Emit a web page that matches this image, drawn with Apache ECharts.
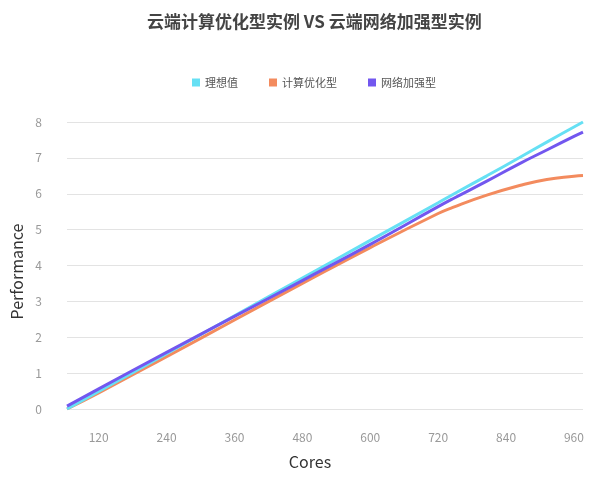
<!DOCTYPE html>
<html>
<head>
<meta charset="utf-8">
<script src="https://cdn.jsdelivr.net/npm/echarts@6/dist/echarts.min.js"></script>
<style>html,body{margin:0;padding:0;background:#fff;}#c{width:600px;height:477px;}</style>
</head>
<body>
<div id="c"></div>
<script>
const cores = [64, 120, 240, 360, 480, 600, 720, 746, 806, 864, 912, 960, 976];
const ideal = [0, 0.49, 1.54, 2.60, 3.65, 4.70, 5.75, 5.98, 6.50, 7.01, 7.44, 7.86, 8.0];
const computeOpt = [0, 0.45, 1.46, 2.48, 3.50, 4.50, 5.45, 5.62, 5.96, 6.23, 6.40, 6.49, 6.51];
const networkEnh = [0.08, 0.56, 1.58, 2.58, 3.58, 4.59, 5.64, 5.86, 6.35, 6.84, 7.22, 7.60, 7.72];
const xTicks = [120, 240, 360, 480, 600, 720, 840, 960];
const seriesNames = ['理想值', '计算优化型', '网络加强型'];
const colors = ['#66E0F4', '#F38B5E', '#7257EF'];

const font = '"Noto Sans CJK SC", "Noto Sans", sans-serif';
const pair = (ys) => cores.map((c, i) => [c, ys[i]]);

const chart = echarts.init(document.getElementById('c'), null, {renderer: 'canvas'});
chart.setOption({
  animation: false,
  color: colors,
  textStyle: {fontFamily: font},
  title: {
    text: '云端计算优化型实例 VS 云端网络加强型实例',
    left: 142,
    top: 8,
    textStyle: {fontSize: 17, fontWeight: 'bold', color: '#444', fontFamily: font}
  },
  legend: {
    top: 72,
    left: 187,
    icon: 'rect',
    itemWidth: 8,
    itemHeight: 8,
    itemGap: 31,
    textStyle: {fontSize: 11, color: '#555', fontFamily: font},
    data: seriesNames
  },
  grid: {left: 67, right: 17, top: 122, bottom: 68},
  xAxis: {
    type: 'value',
    min: 64,
    max: 976,
    name: 'Cores',
    nameLocation: 'middle',
    nameGap: 45,
    nameTextStyle: {fontSize: 16, color: '#333', padding: [0, 30, 0, 0]},
    axisLine: {show: false},
    axisTick: {show: false},
    splitLine: {show: false},
    axisLabel: {customValues: xTicks, color: '#999', fontSize: 12, margin: 22}
  },
  yAxis: {
    type: 'value',
    min: 0,
    max: 8,
    interval: 1,
    name: 'Performance',
    nameLocation: 'middle',
    nameGap: 42,
    nameTextStyle: {fontSize: 16, color: '#333', padding: [0, 12, 0, 0]},
    axisLine: {show: false},
    axisTick: {show: false},
    axisLabel: {color: '#999', fontSize: 12, margin: 25},
    splitLine: {lineStyle: {color: '#e3e3e3', width: 1}}
  },
  series: [
    {name: seriesNames[0], type: 'line', smooth: 0.5, showSymbol: false, data: pair(ideal), lineStyle: {width: 3}, z: 3},
    {name: seriesNames[1], type: 'line', smooth: 0.5, showSymbol: false, data: pair(computeOpt), lineStyle: {width: 3}, z: 2},
    {name: seriesNames[2], type: 'line', smooth: 0.5, showSymbol: false, data: pair(networkEnh), lineStyle: {width: 3}, z: 4}
  ]
});
</script>
</body>
</html>
